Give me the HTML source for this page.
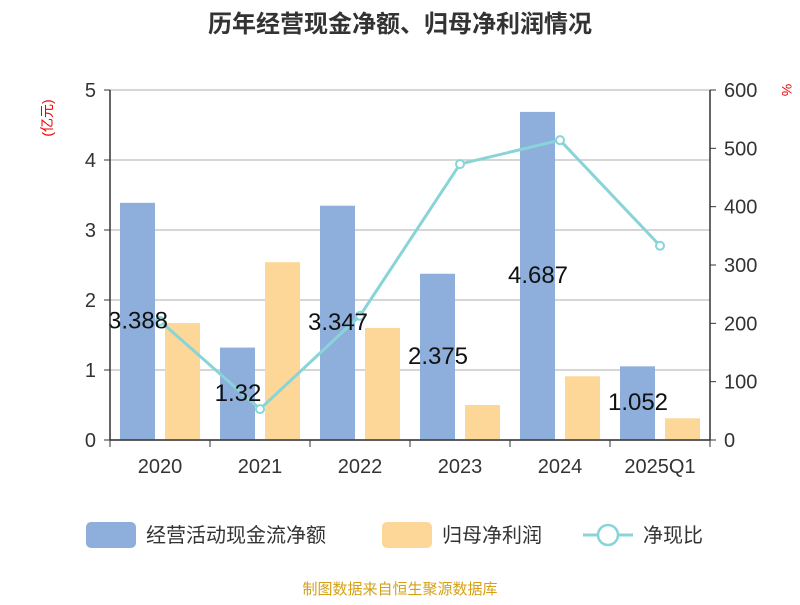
<!DOCTYPE html>
<html><head><meta charset="utf-8"><style>
body{margin:0;background:#fff;}
svg text{font-family:"Liberation Sans","Noto Sans CJK SC",sans-serif;}
</style></head><body>
<svg id="c" width="800" height="600">
<text x="400" y="32" text-anchor="middle" font-size="24" font-weight="bold" fill="#333">历年经营现金净额、归母净利润情况</text>
<text transform="translate(52,118) rotate(-90)" text-anchor="middle" font-size="14" fill="#e00">(亿元)</text>
<text transform="translate(782,90) rotate(90)" text-anchor="middle" font-size="14" fill="#e00">%</text>
<g id="grid"></g><g id="bars"></g><g id="line"></g><g id="axes"></g>
<g>
<rect x="86" y="522" width="50" height="26" rx="5" fill="#8eaedb"/>
<text x="146" y="542" font-size="20" fill="#333">经营活动现金流净额</text>
<rect x="382" y="522" width="50" height="26" rx="5" fill="#fdd798"/>
<text x="442" y="542" font-size="20" fill="#333">归母净利润</text>
<line x1="583" y1="535" x2="633" y2="535" stroke="#88d4d8" stroke-width="3"/>
<circle cx="608" cy="535" r="10" fill="#fff" stroke="#88d4d8" stroke-width="2.5"/>
<text x="643" y="542" font-size="20" fill="#333">净现比</text>
</g>
<text x="400" y="594" text-anchor="middle" font-size="15" fill="#d4a017">制图数据来自恒生聚源数据库</text>
</svg>
<script>
const categories=["2020","2021","2022","2023","2024","2025Q1"];
const cashFlow=[3.388,1.32,3.347,2.375,4.687,1.052];
const netProfit=[1.67,2.54,1.6,0.5,0.91,0.31];
const ratio=[204,53,213,473,514,333];
const leftTicks=[0,1,2,3,4,5];
const rightTicks=[0,100,200,300,400,500,600];
const ns="http://www.w3.org/2000/svg";
const L=110,R=710,T=90,B=440;
const yL=v=>B-(v/5)*(B-T), yR=v=>B-(v/600)*(B-T);
const bw=(R-L)/categories.length, xC=i=>L+bw*(i+0.5);
function mk(tag,attrs,parent,txt){const e=document.createElementNS(ns,tag);for(const k in attrs)e.setAttribute(k,attrs[k]);if(txt!==undefined)e.textContent=txt;document.getElementById(parent).appendChild(e);return e;}
leftTicks.forEach(v=>{
 const g=mk('line',{x1:L,x2:R,y1:yL(v),y2:yL(v),stroke:'#c8c8c8','stroke-width':1.5},'grid');
 
 
 const t=mk('text',{x:L-14,y:yL(v)+7,'text-anchor':'end','font-size':20,fill:'#333'},'axes',v);
 
 
 mk('line',{x1:L-6,x2:L,y1:yL(v),y2:yL(v),stroke:'#333'},'axes');
});
rightTicks.forEach(v=>{
 const t=mk('text',{x:R+14,y:yR(v)+7,'font-size':20,fill:'#333'},'axes',v);
 
 
 mk('line',{x1:R,x2:R+6,y1:yR(v),y2:yR(v),stroke:'#333'},'axes');
});
let a=mk('line',{x1:L,x2:L,y1:T,y2:B,stroke:'#333','stroke-width':1.5},'axes');


a=mk('line',{x1:R,x2:R,y1:T,y2:B,stroke:'#333','stroke-width':1.5},'axes');


a=mk('line',{x1:L,x2:R,y1:B,y2:B,stroke:'#333','stroke-width':1.5},'axes');


categories.forEach((c,i)=>{
 mk('line',{x1:L+bw*i,x2:L+bw*i,y1:B,y2:B+7,stroke:'#333'},'axes');
 if(i===categories.length-1)mk('line',{x1:R,x2:R,y1:B,y2:B+7,stroke:'#333'},'axes');
 const t=mk('text',{x:xC(i),y:B+33,'text-anchor':'middle','font-size':20,fill:'#333'},'axes',c);
 
 
 const x=xC(i);
 const b1=mk('rect',{x:x-40,y:yL(cashFlow[i]),width:35,height:B-yL(cashFlow[i]),fill:'#8eaedb'},'bars');
 
 
 const b2=mk('rect',{x:x+5,y:yL(netProfit[i]),width:35,height:B-yL(netProfit[i]),fill:'#fdd798'},'bars');
 
 
});
const pts=ratio.map((v,i)=>xC(i)+','+yR(v)).join(' ');
const pl=mk('polyline',{points:pts,fill:'none',stroke:'#88d4d8','stroke-width':3},'line');


ratio.forEach((v,i)=>{
 const p=mk('circle',{cx:xC(i),cy:yR(v),r:4,fill:'#fff',stroke:'#88d4d8','stroke-width':2},'line');
 
 
});
cashFlow.forEach((v,i)=>{
 const t=mk('text',{x:xC(i)-22,y:(yL(v)+B)/2+7,'text-anchor':'middle','font-size':24,fill:'#111'},'line',v);
 
 
});
</script>
</body></html>
